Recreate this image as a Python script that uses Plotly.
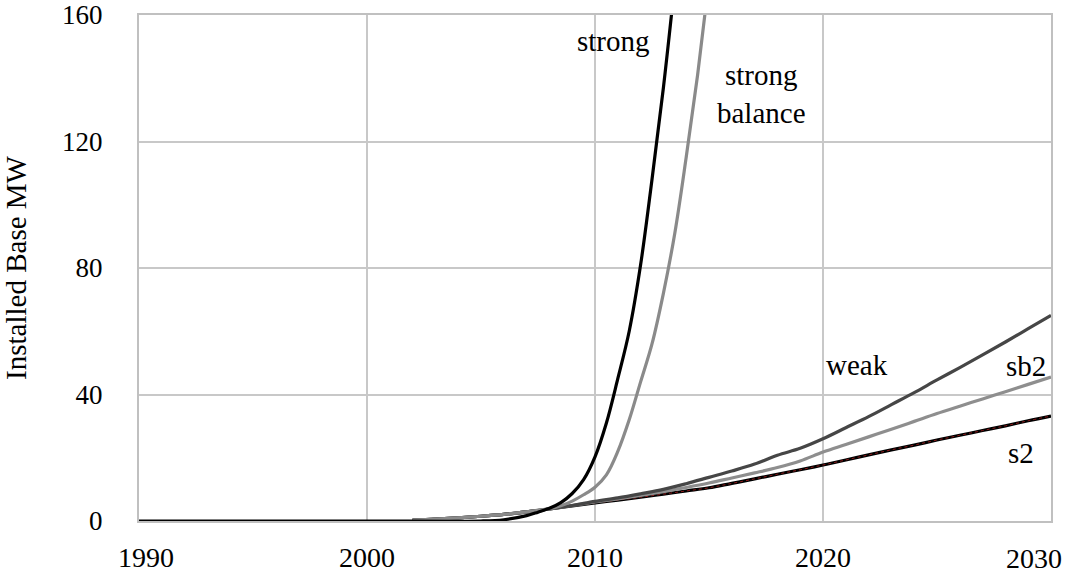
import plotly.graph_objects as go

# ---- data ----
strong_years = [1990, 1995, 2000, 2005, 2006, 2007, 2007.5, 2008, 2008.5, 2009, 2009.5, 2010,
                2010.5, 2011, 2011.5, 2012, 2012.5, 2013, 2013.5]
strong_vals = [0, 0, 0, 0, 0.4, 1.7, 2.8, 4.0, 5.8, 8.7, 13.1, 20.3, 31, 45, 60, 81, 108, 137, 170]

sbal_years = [2002, 2003, 2004, 2005, 2006, 2007, 2008, 2008.5, 2009, 2009.5, 2010, 2010.5,
              2011, 2011.5, 2012, 2012.5, 2013, 2013.5, 2014, 2014.5, 2015, 2015.5]
sbal_vals = [0.3, 0.6, 1.0, 1.5, 2.1, 2.9, 3.9, 4.8, 6.3, 8.3, 10.7, 14.6, 22, 32, 44, 56, 72,
             91, 115, 141, 171, 205]

years = list(range(2002, 2031))
weak_vals = [0.3, 0.6, 1.0, 1.5, 2.1, 2.9, 3.8, 4.9, 6.2, 7.3, 8.6, 10.0, 11.8, 13.8, 15.8,
             18.0, 20.8, 23.0, 26.0, 29.5, 33.0, 36.8, 40.6, 44.6, 48.5, 52.5, 56.6, 60.8, 65.0]
sb2_vals = [0.3, 0.6, 1.0, 1.5, 2.1, 2.9, 3.8, 4.9, 6.0, 7.0, 8.1, 9.3, 10.6, 12.0, 13.6,
            15.2, 16.9, 19.0, 21.8, 24.2, 26.6, 29.0, 31.5, 34.0, 36.3, 38.6, 40.9, 43.2, 45.5]
s2_vals = [0.3, 0.6, 1.0, 1.5, 2.1, 2.9, 3.8, 4.8, 5.7, 6.6, 7.5, 8.5, 9.5, 10.5, 11.9,
           13.3, 14.8, 16.2, 17.7, 19.3, 20.9, 22.5, 24.0, 25.6, 27.1, 28.6, 30.1, 31.7, 33.2]

x_ticks = [1990, 2000, 2010, 2020, 2030]
x_tick_labels = ["1990", "2000", "2010", "2020", "2030"]
y_ticks = [0, 40, 80, 120, 160]

labels = [
    ("strong", 2010.8, 151.8),
    ("strong<br>balance", 2017.3, 135.0),
    ("weak", 2021.5, 49.2),
    ("sb2", 2028.9, 48.9),
    ("s2", 2028.7, 21.4),
]

FONT = "Liberation Serif"

fig = go.Figure()
fig.add_trace(go.Scatter(x=years, y=s2_vals, mode="lines", name="s2",
                         line=dict(color="#000000", width=3.2, shape="spline")))
fig.add_trace(go.Scatter(x=years, y=s2_vals, mode="lines", name="s2 dots",
                         line=dict(color="#8b1a1a", width=1, dash="dot", shape="spline")))
fig.add_trace(go.Scatter(x=years, y=sb2_vals, mode="lines", name="sb2",
                         line=dict(color="#8e8e8e", width=3.2, shape="spline")))
fig.add_trace(go.Scatter(x=years, y=weak_vals, mode="lines", name="weak",
                         line=dict(color="#464646", width=3.2, shape="spline")))
fig.add_trace(go.Scatter(x=sbal_years, y=sbal_vals, mode="lines", name="strong balance",
                         line=dict(color="#8a8a8a", width=3.2, shape="spline")))
fig.add_trace(go.Scatter(x=strong_years, y=strong_vals, mode="lines", name="strong",
                         line=dict(color="#000000", width=3.2, shape="spline")))

for text, x, y in labels:
    fig.add_annotation(x=x, y=y, text=text, showarrow=False,
                       font=dict(family=FONT, size=29, color="#000000"))

# axis tick labels: the last one is kept inside the chart, right-aligned to its gridline
x_ticktext = ["\u00a0\u00a0" + x_tick_labels[0]] + x_tick_labels[1:-1] + [""]
fig.add_annotation(x=x_ticks[-1], y=0, xref="x", yref="paper", text=x_tick_labels[-1],
                   showarrow=False, xanchor="right", yanchor="top", xshift=13, yshift=-20,
                   font=dict(family=FONT, size=28, color="#000000"))

fig.update_layout(
    width=1068, height=575,
    margin=dict(l=139, r=17, t=15, b=54, autoexpand=False),
    paper_bgcolor="white", plot_bgcolor="white",
    showlegend=False,
    font=dict(family=FONT, size=27, color="#000000"),
)
fig.update_xaxes(range=[1990, 2030], tickvals=x_ticks, ticktext=x_ticktext,
                 showgrid=True, gridcolor="#c8c8c8", gridwidth=2,
                 showline=True, linecolor="#c0c0c0", linewidth=2, mirror=True,
                 ticks="", ticklabelstandoff=10, zeroline=False, automargin=False,
                 ticklabeloverflow="allow",
                 tickfont=dict(family=FONT, size=28))
fig.update_yaxes(range=[0, 160], tickvals=y_ticks, ticktext=[str(v) for v in y_ticks],
                 showgrid=True, gridcolor="#c8c8c8", gridwidth=2,
                 showline=True, linecolor="#c0c0c0", linewidth=2, mirror=True,
                 ticks="", ticklabelstandoff=29, zeroline=False, automargin="left",
                 ticklabeloverflow="allow",
                 title=dict(text="Installed Base MW", font=dict(family=FONT, size=29), standoff=28),
                 tickfont=dict(family=FONT, size=27))

fig.write_html("out.html", config={"displayModeBar": False},
               post_script="document.body.style.margin='0';")
